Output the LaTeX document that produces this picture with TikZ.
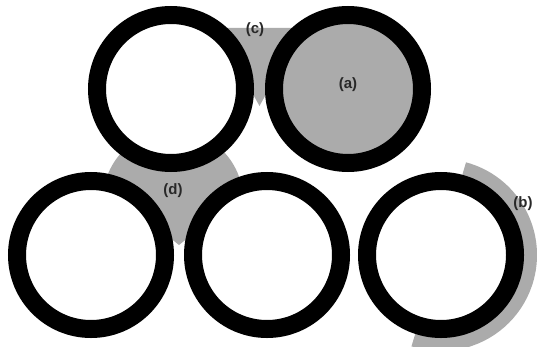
\documentclass[tikz,border=0pt]{standalone}
\usepackage{fontspec}
\setmainfont{Liberation Sans}
\definecolor{pgray}{RGB}{171,171,171}
\definecolor{ink}{RGB}{40,40,40}
\tikzset{
  ring/.style={circle, draw=black, line width=18pt, minimum size=148pt, inner sep=0pt, fill=white},
  lab/.style={text=ink, font=\fontsize{15}{17}\selectfont\bfseries, inner sep=0pt}
}
\begin{document}
\begin{tikzpicture}[x=1pt,y=1pt]
\useasboundingbox (0,0) rectangle (537,346);
% gray regions behind the fibres
\fill[pgray] (216.5,318) -- (302.5,318) -- (259.5,240) -- cycle;
\begin{scope}
  \clip (179,101) -- (60,196) -- (60,260) -- (298,260) -- (298,196) -- cycle;
  \fill[pgray] (173,146) circle (70);
\end{scope}
\draw[pgray, line width=14pt] ([shift={(75:89)}]441,91) arc[start angle=75, end angle=-108, radius=89];
% fibres
\node[ring] (tl) at (171,257) {};
\node[ring, fill=pgray] (tr) at (348,257) {};
\node[ring] (bl) at (91,91) {};
\node[ring] (bm) at (267,91) {};
\node[ring] (br) at (441,91) {};
% labels
\node[lab] (la) at (348,261) {(a)};
\node[lab] (lb) at (523,142) {(b)};
\node[lab] (lc) at (255,316) {(c)};
\node[lab] (ld) at (173,155) {(d)};
\end{tikzpicture}
\end{document}
